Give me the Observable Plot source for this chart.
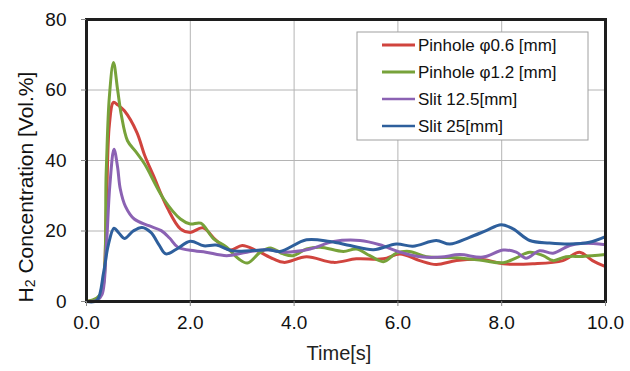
<!DOCTYPE html>
<html>
<head>
<meta charset="utf-8">
<script src="https://cdn.jsdelivr.net/npm/d3@7"></script>
<script src="https://cdn.jsdelivr.net/npm/@observablehq/plot@0.6"></script>
<style>
  html, body { margin: 0; padding: 0; background: #fff; }
  #chart { width: 630px; height: 371px; }
</style>
</head>
<body>
<div id="chart"></div>
<script>
// Series names and colours
const seriesNames = ["Pinhole φ0.6 [mm]", "Pinhole φ1.2 [mm]", "Slit 12.5[mm]", "Slit 25[mm]"];
const seriesColors = ["#d0443e", "#77a23a", "#8b62b3", "#2e5f9c"];

// Axis ticks
const xTicks = [0, 2, 4, 6, 8, 10];
const yTicks = [0, 20, 40, 60, 80];
const xLabel = "Time[s]";

// Pinhole φ0.6 [mm]
const redT = [0, 0.2, 0.3, 0.38, 0.44, 0.52, 0.6, 0.73, 0.97, 1.12, 1.29, 1.56, 1.81, 2.0, 2.24, 2.5, 2.77, 3.0, 3.28, 3.6, 3.8, 4.24, 4.76, 5.2, 5.72, 6.04, 6.42, 6.74, 7.13, 7.64, 8.03, 8.6, 9.18, 9.5, 9.75, 10.0];
const redV = [0, 0.8, 3, 25, 50, 56.5, 55.8, 54.1, 48, 41.5, 35.7, 26.5, 20.6, 19.6, 20.9, 17.3, 14.6, 15.9, 14.4, 12.1, 11.1, 12.7, 11.1, 12.1, 12.1, 13.5, 11.6, 10.5, 11.6, 11.9, 10.7, 10.7, 11.6, 14, 11.6, 9.9];

// Pinhole φ1.2 [mm]
const greenT = [0, 0.2, 0.3, 0.38, 0.44, 0.52, 0.6, 0.67, 0.79, 0.95, 1.12, 1.49, 1.81, 2.0, 2.2, 2.45, 2.7, 2.93, 3.1, 3.35, 3.54, 3.79, 3.98, 4.24, 4.5, 4.95, 5.2, 5.46, 5.72, 5.97, 6.22, 6.55, 7.13, 7.64, 8.03, 8.28, 8.54, 8.8, 8.99, 9.24, 9.56, 10.0];
const greenV = [0, 1, 3, 37, 58, 67.8, 60, 53, 45.6, 42.5, 39, 29, 23.4, 22, 22.2, 17.8, 15.4, 12.1, 10.9, 14, 15.2, 13.5, 13, 14.9, 15.4, 14.2, 14.9, 13, 11.3, 13.7, 14.2, 12.7, 12.4, 11.6, 11, 12.4, 14, 13, 11.6, 12.7, 12.8, 13.3];

// Slit 12.5[mm]
const purpleT = [0, 0.2, 0.3, 0.38, 0.45, 0.53, 0.6, 0.65, 0.75, 0.92, 1.2, 1.44, 1.6, 1.76, 2.08, 2.3, 2.7, 3.09, 3.5, 3.79, 4.31, 4.76, 5.27, 5.65, 6.04, 6.49, 6.83, 7.19, 7.64, 8.03, 8.28, 8.47, 8.73, 8.99, 9.31, 9.56, 10.0];
const purpleV = [0, 0.3, 2, 15, 33, 43.2, 38, 32, 27, 23.4, 21.5, 20.1, 18, 15.4, 14.4, 14, 13, 14, 14.7, 14, 14.9, 17, 17.3, 16.1, 14, 12.6, 12.6, 13.3, 12.6, 14.6, 14, 12.3, 14.4, 13.7, 15.9, 16.5, 16.1];

// Slit 25[mm]
const blueT = [0, 0.2, 0.33, 0.42, 0.53, 0.62, 0.73, 0.9, 1.07, 1.24, 1.4, 1.53, 1.74, 2.0, 2.26, 2.5, 2.8, 3.15, 3.5, 3.73, 4.24, 4.69, 5.08, 5.53, 5.97, 6.29, 6.74, 7.0, 7.38, 7.7, 7.99, 8.22, 8.54, 8.92, 9.31, 9.69, 10.0];
const blueV = [0, 0.3, 8.3, 16, 20.8, 19.5, 17.9, 20, 21, 19.6, 16, 13.5, 14.9, 17.1, 15.8, 16, 14.4, 14.4, 14.7, 14.2, 17.5, 17, 15.9, 14.7, 16.3, 15.7, 17.3, 16.3, 18.2, 20.1, 21.8, 20.6, 17.3, 16.6, 16.3, 16.8, 18.4];

const seriesT = [redT, greenT, purpleT, blueT];
const seriesV = [redV, greenV, purpleV, blueV];

const rows = [];
seriesNames.forEach((name, i) => {
  seriesT[i].forEach((t, j) => rows.push({series: name, t, v: seriesV[i][j]}));
});

const FONT = "'Liberation Sans', Arial, sans-serif";

const chart = Plot.plot({
  width: 630,
  height: 371,
  marginLeft: 86,
  marginRight: 25,
  marginTop: 19,
  marginBottom: 70,
  style: {fontFamily: FONT, background: "#fff", color: "#111"},
  x: {domain: [0, 10]},
  y: {domain: [0, 80]},
  color: {domain: seriesNames, range: seriesColors},
  marks: [
    Plot.gridX(xTicks, {stroke: "#b4b4b4", strokeOpacity: 1, strokeWidth: 1}),
    Plot.gridY(yTicks, {stroke: "#b4b4b4", strokeOpacity: 1, strokeWidth: 1}),
    Plot.line(rows, {x: "t", y: "v", z: "series", stroke: "series", strokeWidth: 3, curve: "catmull-rom"}),
    Plot.frame({stroke: "#1e1e1e", strokeWidth: 3}),
    Plot.axisX(xTicks, {tickFormat: d3.format(".1f"), tickSize: 5, tickPadding: 9, fontSize: 19, label: null, stroke: "#888"}),
    Plot.axisY(yTicks, {tickSize: 5, tickPadding: 15, fontSize: 19, label: null, stroke: "#888"}),
    Plot.text([xLabel], {frameAnchor: "bottom", dy: 58, dx: -7, fontSize: 20, fill: "#222"})
  ]
});

document.getElementById("chart").appendChild(chart);

const svg = d3.select(chart);

// Y axis label with subscript
const yl = svg.append("text")
  .attr("transform", "translate(25,187) rotate(-90)")
  .attr("text-anchor", "middle")
  .attr("dominant-baseline", "central")
  .attr("font-family", FONT)
  .attr("font-size", 21)
  .attr("fill", "#111");
yl.append("tspan").text("H");
yl.append("tspan").attr("font-size", 14).attr("dy", 5).text("2");
yl.append("tspan").attr("dy", -5).text(" Concentration [Vol.%]");

// Legend
const lg = svg.append("g").attr("font-family", FONT).attr("font-size", 17).attr("text-anchor", "start");
lg.append("rect").attr("x", 357).attr("y", 32).attr("width", 231).attr("height", 108)
  .attr("fill", "#fff").attr("stroke", "#a0a0a0").attr("stroke-width", 1);
seriesNames.forEach((name, i) => {
  const cy = 45 + i * 27;
  lg.append("line").attr("x1", 382).attr("x2", 415).attr("y1", cy).attr("y2", cy)
    .attr("stroke", seriesColors[i]).attr("stroke-width", i < 2 ? 3 : 2.5);
  lg.append("text").attr("x", 418).attr("y", cy).attr("dominant-baseline", "central")
    .attr("text-anchor", "start").attr("fill", "#111").text(name);
});
</script>
</body>
</html>
